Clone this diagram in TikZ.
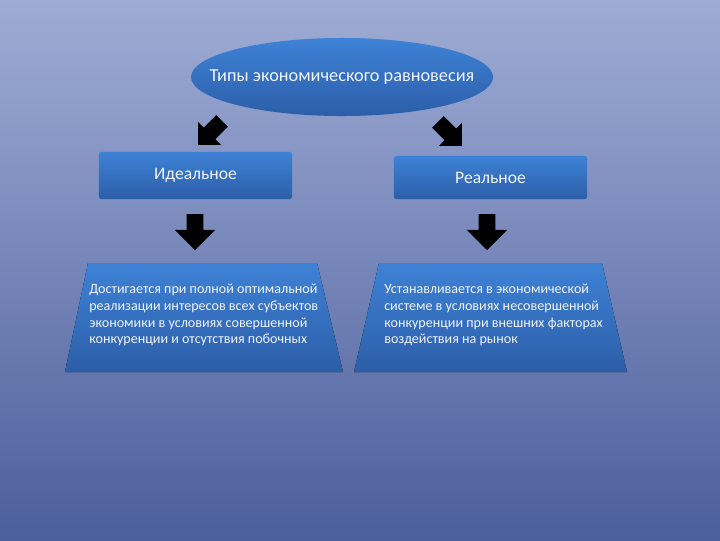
\documentclass[tikz,border=0pt]{standalone}
\usepackage{fontspec}
\setmainfont{Carlito}
\usetikzlibrary{shapes.geometric,shapes.arrows}
\definecolor{bgtop}{RGB}{158,172,212}
\definecolor{bgbot}{RGB}{76,94,156}
\definecolor{boxtop}{RGB}{62,130,214}
\definecolor{boxbot}{RGB}{44,94,168}
\definecolor{txt}{RGB}{240,244,255}
\tikzset{
  blueshade/.style={top color=boxtop, bottom color=boxbot, draw=none},
  titlebox/.style={blueshade, rectangle, rounded corners=1.5pt, minimum width=4.825cm,
    text=txt, font=\fontsize{12.5}{14}\selectfont},
  downarrow/.style={single arrow, fill=black, inner xsep=0pt, inner ysep=0.2cm,
    single arrow head extend=0.3cm, minimum height=0.9cm, rotate=270},
  diagarrow/.style={single arrow, fill=black, inner xsep=0pt, inner ysep=0.2cm,
    single arrow head extend=0.2cm, minimum height=0.85cm},
  desc/.style={anchor=north west, inner sep=0pt, align=left, text=txt,
    font=\fontsize{10}{11.9}\selectfont}
}
\begin{document}
\begin{tikzpicture}[x=0.025cm,y=-0.025cm]
    \useasboundingbox (0,0) rectangle (720,540);
    \fill[top color=bgtop, bottom color=bgbot] (0,0) rectangle (720,540);
    \node[ellipse, blueshade, inner sep=0pt, minimum width=7.55cm, minimum height=1.95cm,
      label={[text=txt, font=\fontsize{13}{15}\selectfont]center:Типы экономического равновесия}] (types) at (342,77) {};
    \node[titlebox, minimum height=1.175cm] (ideal) at (195.5,175.5) {Идеальное};
    \node[titlebox, minimum height=1.075cm] (real) at (490.5,177.5) {Реальное};
    \node[diagarrow, rotate=225] (toideal) at (213,130) {};
    \node[diagarrow, rotate=315] (toreal) at (447,131) {};
    \node[downarrow] (idealdown) at (195,228) {};
    \node[downarrow] (realdown) at (487,228) {};
    \fill[blueshade] (88,263) -- (317,263) -- (343,372) -- (65,372) -- cycle;
    \fill[blueshade] (379,263) -- (602,263) -- (627,372) -- (354,372) -- cycle;
    \node[desc] (idealtxt) at (89,284) {Достигается при полной оптимальной\\реализации интересов всех субъектов\\экономики в условиях совершенной\\конкуренции и отсутствия побочных};
    \node[desc] (realtxt) at (384,284) {Устанавливается в экономической\\системе в условиях несовершенной\\конкуренции при внешних факторах\\воздействия на рынок};
\end{tikzpicture}
\end{document}
